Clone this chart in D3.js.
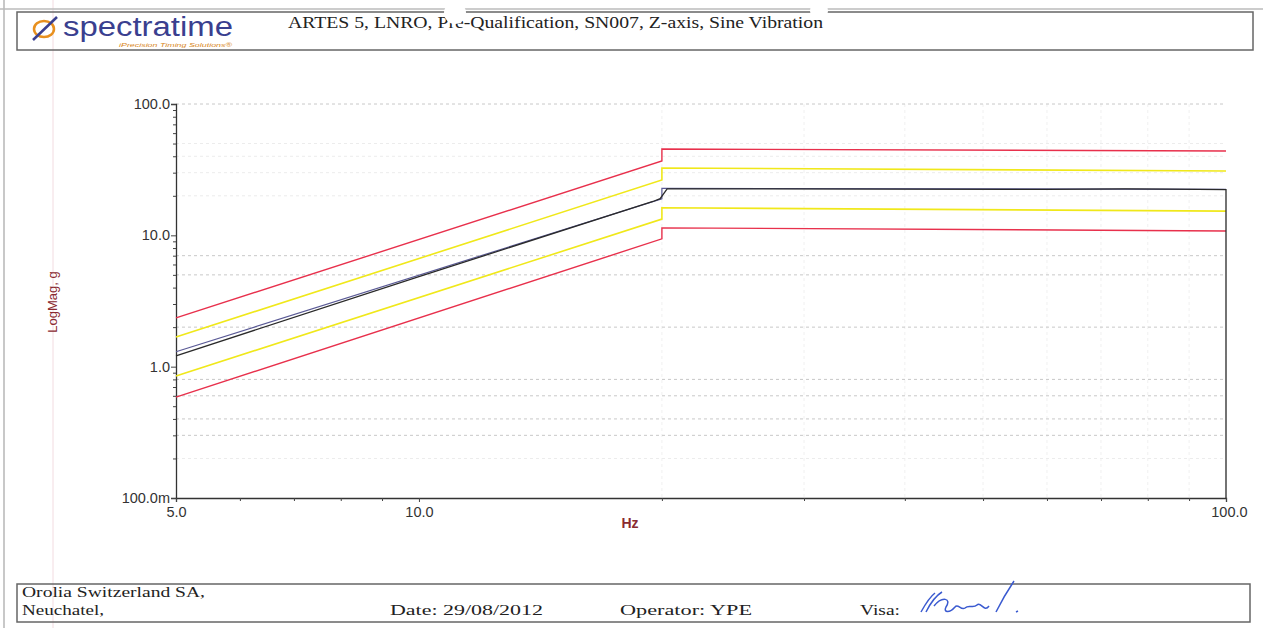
<!DOCTYPE html>
<html>
<head>
<meta charset="utf-8">
<script src="https://cdn.jsdelivr.net/npm/d3@7"></script>
<style>
  html, body { margin: 0; padding: 0; background: #fff; }
  svg { display: block; }
</style>
</head>
<body>
<div id="chart"></div>
<script>
// Sine vibration test report: log-log magnitude vs frequency, step at 20 Hz

// profile breakpoints (Hz): sweep 5 -> 20, step at 20, flat to 100
const profileFreq = [5, 20, 20, 100];
const abortHigh = [2.35, 36.8, 45.4, 43.9];
const alarmHigh = [1.68, 26.4, 32.6, 30.9];
const reference = [1.30, 19.0, 22.8, 22.4];
const alarmLow = [0.849, 13.3, 16.2, 15.3];
const abortLow = [0.587, 9.4, 11.4, 10.8];

// measured response (control accelerometer)
const measuredFreq = [5, 10, 19.5, 19.9, 20.3, 60, 75, 85, 100, 100];
const measured = [1.21, 4.85, 18.1, 19.0, 22.6, 22.4, 22.6, 22.5, 22.3, 0.1];

// axes
const yMajor = [0.1, 1, 10, 100];
const yMajorLabels = ["100.0m", "1.0", "10.0", "100.0"];
const xMajor = [5, 10, 100];
const xMajorLabels = ["5.0", "10.0", "100.0"];
const yGridStrong = [100, 7, 5, 2, 0.8, 0.6, 0.4, 0.3];
const yGridFaint = [50, 40, 30, 20, 0.2];
const xGrid = [20, 30, 40, 50, 60, 70, 80, 90];

const title = "ARTES 5, LNRO, Pre-Qualification, SN007, Z-axis, Sine Vibration";

const width = 1263, height = 628;
const margin = { top: 104, right: 37, bottom: 130, left: 176 };

const fontSans = "'Liberation Sans', Arial, sans-serif";
const fontSerif = "'Liberation Serif', 'Times New Roman', serif";

const svg = d3.select("#chart").append("svg")
  .attr("width", width)
  .attr("height", height);

// page edges (scan)
svg.append("line").attr("x1", 4).attr("x2", 4).attr("y1", 0).attr("y2", height)
  .attr("stroke", "#c8c8c8").attr("stroke-width", 2);
svg.append("line").attr("x1", 53).attr("x2", 53).attr("y1", 0).attr("y2", height)
  .attr("stroke", "#f2dbe0").attr("stroke-width", 1);
svg.append("line").attr("x1", 0).attr("x2", width).attr("y1", 9).attr("y2", 9)
  .attr("stroke", "#bbb").attr("stroke-width", 1.5);

// header box
svg.append("rect").attr("x", 17).attr("y", 12).attr("width", 1236).attr("height", 38)
  .attr("fill", "none").attr("stroke", "#666").attr("stroke-width", 1.5);

// logo
const logo = svg.append("g").attr("transform", "translate(30,16)");
logo.append("ellipse").attr("cx", 14).attr("cy", 13).attr("rx", 10).attr("ry", 8)
  .attr("fill", "none").attr("stroke", "#e8901e").attr("stroke-width", 2.5);
logo.append("line").attr("x1", 3).attr("y1", 24).attr("x2", 27).attr("y2", 1)
  .attr("stroke", "#3a3f8f").attr("stroke-width", 2.5);
logo.append("text").attr("x", 33).attr("y", 20)
  .attr("font-family", fontSans)
  .attr("font-size", 27).attr("fill", "#3a3f8f")
  .attr("textLength", 170).attr("lengthAdjust", "spacingAndGlyphs")
  .text("spectratime");
logo.append("text").attr("x", 89).attr("y", 31)
  .attr("font-family", fontSans)
  .attr("font-size", 5.5).attr("font-style", "italic").attr("fill", "#d8861a")
  .attr("textLength", 113).attr("lengthAdjust", "spacingAndGlyphs")
  .text("iPrecision Timing Solutions\u00ae");

svg.append("text").attr("x", 288).attr("y", 28)
  .attr("font-family", fontSerif)
  .attr("font-size", 17).attr("fill", "#222")
  .attr("textLength", 535).attr("lengthAdjust", "spacingAndGlyphs")
  .text(title);

// scales
const x = d3.scaleLog().domain([5, 100]).range([margin.left, width - margin.right]);
const y = d3.scaleLog().domain([0.1, 100]).range([height - margin.bottom, margin.top]);

const plot = svg.append("g");

// grid
plot.selectAll(".vgrid").data(xGrid).join("line")
  .attr("x1", d => x(d)).attr("x2", d => x(d))
  .attr("y1", y(100)).attr("y2", y(0.1))
  .attr("stroke", "#f0f0f0").attr("stroke-dasharray", "3,3");
plot.selectAll(".hgridf").data(yGridFaint).join("line")
  .attr("x1", x(5)).attr("x2", x(100))
  .attr("y1", d => y(d)).attr("y2", d => y(d))
  .attr("stroke", "#ececec").attr("stroke-dasharray", "3,3");
plot.selectAll(".hgrid").data(yGridStrong).join("line")
  .attr("x1", x(5)).attr("x2", x(100))
  .attr("y1", d => y(d)).attr("y2", d => y(d))
  .attr("stroke", "#c8c8c8").attr("stroke-dasharray", "3,3");

// axes
const yMinor = [];
[0.1, 1, 10].forEach(dec => { for (let k = 2; k <= 9; k++) yMinor.push(dec * k); });
const xMinor = [6, 7, 8, 9, 20, 30, 40, 50, 60, 70, 80, 90];

plot.append("g").attr("transform", `translate(${margin.left},0)`)
  .call(d3.axisLeft(y).tickValues(yMajor).tickSize(5).tickPadding(1)
    .tickFormat((d, i) => yMajorLabels[i]));
plot.append("g").attr("transform", `translate(${margin.left},0)`)
  .call(d3.axisLeft(y).tickValues(yMinor).tickSize(3).tickFormat(""))
  .call(g => g.select(".domain").remove());

const xAxis = plot.append("g").attr("transform", `translate(0,${height - margin.bottom})`)
  .call(d3.axisBottom(x).tickValues(xMajor).tickSize(4).tickPadding(3)
    .tickFormat((d, i) => xMajorLabels[i]));
plot.append("g").attr("transform", `translate(0,${height - margin.bottom})`)
  .call(d3.axisBottom(x).tickValues(xMinor).tickSize(3).tickFormat(""))
  .call(g => g.select(".domain").remove());

plot.selectAll(".domain").attr("stroke", "#333").attr("stroke-width", 1.3);
plot.selectAll(".tick line").attr("stroke", "#444");
plot.selectAll(".tick text")
  .attr("font-family", fontSans).attr("font-size", 14.5).attr("fill", "#333");
xAxis.selectAll(".tick text").attr("dy", "0.8em");
xAxis.selectAll(".tick").filter(d => d === 100).select("text").attr("dx", "0.2em");

// axis titles
svg.append("text")
  .attr("transform", `translate(57, 302) rotate(-90)`)
  .attr("text-anchor", "middle")
  .attr("font-family", fontSans).attr("font-size", 13).attr("fill", "#8a2a30")
  .text("LogMag, g");
svg.append("text")
  .attr("x", 630).attr("y", 528)
  .attr("text-anchor", "middle")
  .attr("font-family", fontSans).attr("font-size", 14).attr("font-weight", 700).attr("fill", "#8a2a30")
  .text("Hz");

// traces
const line = d3.line().x(d => x(d[0])).y(d => y(d[1]));
const traces = [
  { values: abortHigh, color: "#e8304c", width: 1.4 },
  { values: alarmHigh, color: "#f0e81a", width: 1.6 },
  { values: alarmLow, color: "#f0e81a", width: 1.6 },
  { values: abortLow, color: "#e8304c", width: 1.4 },
  { values: reference, color: "#5a5a96", width: 1.2 }
];
traces.forEach(t => {
  plot.append("path")
    .datum(profileFreq.map((f, i) => [f, t.values[i]]))
    .attr("fill", "none")
    .attr("stroke", t.color)
    .attr("stroke-width", t.width)
    .attr("d", line);
});
plot.append("path")
  .datum(measuredFreq.map((f, i) => [f, measured[i]]))
  .attr("fill", "none")
  .attr("stroke", "#2a2a2a")
  .attr("stroke-width", 1.3)
  .attr("d", line);

// footer box
svg.append("rect").attr("x", 17).attr("y", 584).attr("width", 1233).attr("height", 38)
  .attr("fill", "none").attr("stroke", "#666").attr("stroke-width", 1.5);
const footer = [
  { x: 22, y: 597, t: "Orolia Switzerland SA,", w: 183 },
  { x: 22, y: 615, t: "Neuchatel,", w: 82 },
  { x: 390, y: 615, t: "Date:  29/08/2012", w: 153 },
  { x: 620, y: 615, t: "Operator: YPE", w: 132 },
  { x: 860, y: 615, t: "Visa:", w: 40 }
];
svg.selectAll(".foot").data(footer).join("text")
  .attr("x", d => d.x).attr("y", d => d.y)
  .attr("font-family", fontSerif).attr("font-size", 15).attr("fill", "#222")
  .attr("textLength", d => d.w).attr("lengthAdjust", "spacingAndGlyphs")
  .text(d => d.t);

// signature
svg.append("path")
  .attr("d", "M921,612 C926,603 931,596 935,593 M926,612 C931,602 937,595 942,592 M934,606 C942,596 952,598 946,607 C943,613 950,613 955,607 C958,603 961,611 965,608 C969,604 973,609 977,605 C981,601 984,613 989,606 M996,612 C1002,600 1008,590 1014,581 M1016,612 L1018,611")
  .attr("fill", "none").attr("stroke", "#3a5ad0").attr("stroke-width", 1.5);

// scan artefacts (punch holes)
svg.append("circle").attr("cx", 455).attr("cy", 13).attr("r", 11).attr("fill", "#fff");
svg.append("circle").attr("cx", 819).attr("cy", 11).attr("r", 9).attr("fill", "#fff");
</script>
</body>
</html>
